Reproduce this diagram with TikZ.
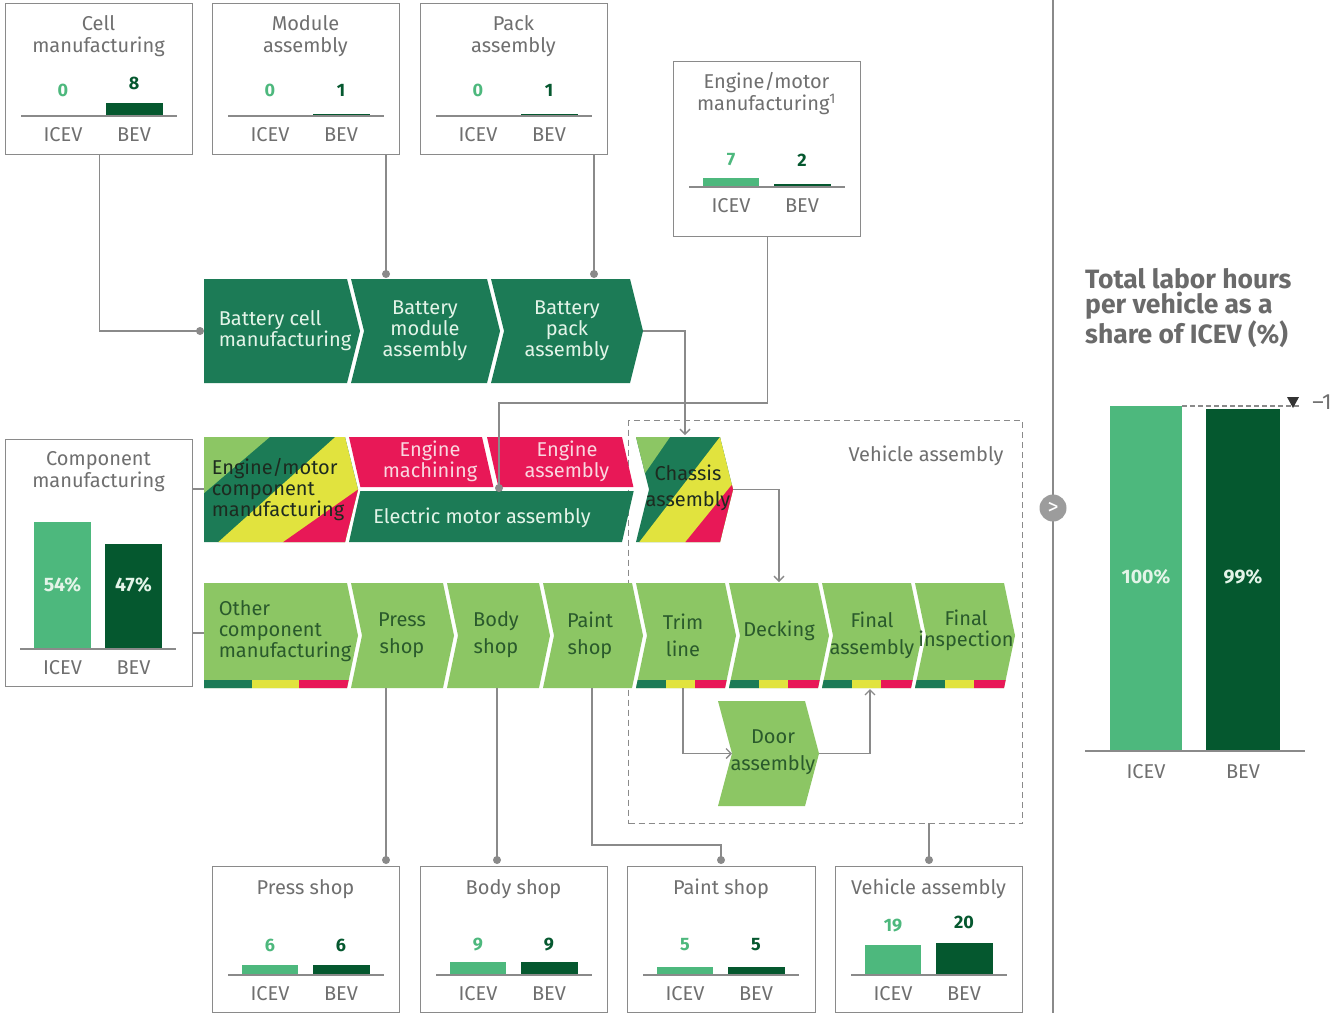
\documentclass[tikz,border=0pt]{standalone}
\usepackage{fontspec}
\setmainfont{Fira Sans}
\usetikzlibrary{arrows.meta}
\definecolor{bcgc}{HTML}{1C7B56}
\definecolor{bevc}{HTML}{05582F}
\definecolor{icevc}{HTML}{4DB87D}
\definecolor{lgc}{HTML}{8CC664}
\definecolor{yelc}{HTML}{E1E33E}
\definecolor{redc}{HTML}{E81857}
\definecolor{grayt}{HTML}{6F6F6F}
\definecolor{linec}{HTML}{8A8A8A}
\definecolor{btxt}{HTML}{E3F4E8}
\definecolor{ptxt}{HTML}{F9D7DF}
\definecolor{dtxt}{HTML}{2A5A2C}
\definecolor{ktxt}{HTML}{1D2B20}
\tikzset{
 boxst/.style={draw=linec, line width=1.3pt, fill=white, inner sep=0pt, anchor=north west},
 ttl/.style={text=grayt, font=\fontsize{20}{22}\selectfont, align=center, inner sep=0pt},
 lbl/.style={text=grayt, font=\fontsize{20}{22}\selectfont, inner sep=0pt},
 numi/.style={text=icevc, font=\bfseries\fontsize{18}{20}\selectfont, inner sep=0pt},
 numb/.style={text=bevc, font=\bfseries\fontsize{18}{20}\selectfont, inner sep=0pt},
 numw/.style={text=btxt, font=\bfseries\fontsize{19.5}{20}\selectfont, inner sep=0pt},
 conn/.style={draw=linec, line width=1.3pt},
 arr/.style={conn, -{Straight Barb[length=5pt,width=10pt]}},
 axisln/.style={draw=linec, line width=1.6pt},
 jdot/.style={circle, fill=linec, inner sep=0pt, minimum size=8pt},
 cht/.style={font=\fontsize{20}{21}\selectfont, align=center, inner sep=0pt},
}
\newcommand{\chevfill}[7]{\fill[#7] (#1,#3) -- (#2,#3) -- ({#2+#6},{(#3+#4)/2}) -- (#2,#4) -- (#1,#4) -- ({#1+#5},{(#3+#4)/2}) -- cycle;}
\newcommand{\chevclip}[6]{\clip (#1,#3) -- (#2,#3) -- ({#2+#6},{(#3+#4)/2}) -- (#2,#4) -- (#1,#4) -- ({#1+#5},{(#3+#4)/2}) -- cycle;}
\newcommand{\tristrip}[2]{%
 \fill[bcgc] ({#1-2},680) rectangle ({#1+(#2-#1)/3},692);
 \fill[yelc] ({#1+(#2-#1)/3},680) rectangle ({#1+2*(#2-#1)/3},692);
 \fill[redc] ({#1+2*(#2-#1)/3},680) rectangle ({#2+15},692);}
% #1 baseline left x, #2 baseline y, #3 icev h, #4 bev h, #5 icev num, #6 bev num, #7 icev num y, #8 bev num y, #9 prefix
\newcommand{\twobars}[9]{%
 \fill[icevc] ({#1+14},#2) rectangle ({#1+70},{#2-#3});
 \fill[bevc] ({#1+85},#2) rectangle ({#1+142},{#2-#4});
 \draw[axisln] (#1,#2) -- ({#1+156},#2);
 \node[numi] (#9-ni) at ({#1+42},#7) {#5};
 \node[numb] (#9-nb) at ({#1+113},#8) {#6};
 \node[lbl] (#9-li) at ({#1+42},{#2+19}) {ICEV};
 \node[lbl] (#9-lb) at ({#1+113},{#2+19}) {BEV};}
\begin{document}
\begin{tikzpicture}[x=1pt,y=-1pt]
\useasboundingbox[fill=white] (0,0) rectangle (1337,1013);

% dashed vehicle assembly frame (behind)
\node[draw=linec, line width=1.3pt, dash pattern=on 6pt off 4pt, inner sep=0pt, anchor=north west, minimum width=394pt, minimum height=403pt] (vabox) at (628,420) {};
\node[lbl] (valbl) at (926,456) {Vehicle assembly};

% ---------- top boxes ----------
\node[boxst, minimum width=187pt, minimum height=151pt] (cellbox) at (5,3) {};
\node[ttl] (cellt) at (98.5,36) {Cell\\manufacturing};
\twobars{21}{116}{0}{13}{0}{8}{90}{83}{cell}

\node[boxst, minimum width=187pt, minimum height=151pt] (modbox) at (212,3) {};
\node[ttl] (modt) at (305.5,36) {Module\\assembly};
\twobars{228}{116}{0}{2.5}{0}{1}{90}{90}{mod}

\node[boxst, minimum width=187pt, minimum height=151pt] (packbox) at (420,3) {};
\node[ttl] (packt) at (513.5,36) {Pack\\assembly};
\twobars{436}{116}{0}{2.5}{0}{1}{90}{90}{pack}

\node[boxst, minimum width=187pt, minimum height=175pt] (engbox) at (673,61) {};
\node[ttl] (engt) at (766.5,94) {Engine/motor\\manufacturing\textsuperscript{1}};
\twobars{689}{187}{9}{3}{7}{2}{160}{160}{eng}

% ---------- component box ----------
\node[boxst, minimum width=187pt, minimum height=247pt] (compbox) at (5,439) {};
\node[ttl] (compt) at (98.5,472) {Component\\manufacturing};
\fill[icevc] (34,522) rectangle (91,649);
\fill[bevc] (105,544) rectangle (162,649);
\draw[axisln] (20,649) -- (176,649);
\node[numw] (comp-ni) at (62.5,585) {54\%};
\node[numw] (comp-nb) at (133.5,585) {47\%};
\node[lbl] (comp-li) at (62.5,668) {ICEV};
\node[lbl] (comp-lb) at (133.5,668) {BEV};

% ---------- row 1: battery ----------
\chevfill{204}{347}{279}{383}{0}{13}{bcgc}
\chevfill{351}{487}{279}{383}{13}{13}{bcgc}
\chevfill{491}{630}{279}{383}{13}{13}{bcgc}
\node[cht, text=btxt, align=left] (bcell) at (285,331) {Battery cell\\manufacturing};
\node[cht, text=btxt] (bmod) at (425,331) {Battery\\module\\assembly};
\node[cht, text=btxt] (bpack) at (567,331) {Battery\\pack\\assembly};

% ---------- row 2 ----------
\begin{scope}
\chevclip{204}{345}{437}{542}{0}{13}
\fill[bcgc] (190,430) rectangle (400,550);
\fill[lgc] (190,430) -- (278,430) -- (196,500) -- (190,500) -- cycle;
\fill[yelc] (343,430) -- (215,545) -- (400,545) -- (400,430) -- cycle;
\fill[redc] (400,460) -- (279,545) -- (400,545) -- cycle;
\end{scope}
\fill[redc] (349,437) -- (482,437) -- (493.4,487) -- (360.4,487) -- cycle;
\fill[redc] (487,437) -- (622,437) -- (633.4,487) -- (498.4,487) -- cycle;
\fill[bcgc] (360.3,491) -- (633.7,491) -- (622,542) -- (349,542) -- cycle;
\begin{scope}
\chevclip{636}{720}{437}{542}{13}{13}
\fill[bcgc] (620,430) rectangle (760,550);
\fill[lgc] (620,437) -- (670,437) -- (630,495) -- (620,495) -- cycle;
\fill[yelc] (733,420) -- (637,545) -- (760,545) -- (760,420) -- cycle;
\fill[redc] (752,460) -- (683,545) -- (760,545) -- (760,460) -- cycle;
\end{scope}
\node[cht, text=ktxt, align=left] (emc) at (278,490) {Engine/motor\\component\\manufacturing};
\node[cht, text=ptxt] (engmach) at (430,461) {Engine\\machining};
\node[cht, text=ptxt] (engass) at (567,461) {Engine\\assembly};
\node[cht, text=btxt] (elec) at (482,518) {Electric motor assembly};
\node[cht, text=ktxt, font=\fontsize{20}{26}\selectfont] (chassis) at (688,488) {Chassis\\assembly};

% ---------- row 3 ----------
\chevfill{204}{347}{583}{688}{0}{11}{lgc}
\chevfill{351}{443}{583}{688}{11}{11}{lgc}
\chevfill{447}{539}{583}{688}{11}{11}{lgc}
\chevfill{543}{632}{583}{688}{11}{11}{lgc}
\chevfill{636}{725}{583}{688}{11}{11}{lgc}
\chevfill{729}{818}{583}{688}{11}{11}{lgc}
\chevfill{822}{911}{583}{688}{11}{11}{lgc}
\chevfill{915}{1004}{583}{688}{11}{11}{lgc}
\begin{scope}\chevclip{204}{347}{583}{688}{0}{11}\tristrip{204}{347}\end{scope}
\begin{scope}\chevclip{636}{725}{583}{688}{11}{11}\tristrip{636}{725}\end{scope}
\begin{scope}\chevclip{729}{818}{583}{688}{11}{11}\tristrip{729}{818}\end{scope}
\begin{scope}\chevclip{822}{911}{583}{688}{11}{11}\tristrip{822}{911}\end{scope}
\begin{scope}\chevclip{915}{1004}{583}{688}{11}{11}\tristrip{915}{1004}\end{scope}
\chevfill{718}{805}{701}{806}{14}{14}{lgc}
\node[cht, text=dtxt, align=left] (other) at (285,631) {Other\\component\\manufacturing};
\node[cht, text=dtxt, font=\fontsize{20}{27}\selectfont] (press) at (402,635) {Press\\shop};
\node[cht, text=dtxt, font=\fontsize{20}{27}\selectfont] (body) at (496,635) {Body\\shop};
\node[cht, text=dtxt, font=\fontsize{20}{27}\selectfont] (paint) at (590,635) {Paint\\shop};
\node[cht, text=dtxt, font=\fontsize{20}{27}\selectfont] (trim) at (683,635) {Trim\\line};
\node[cht, text=dtxt] (decking) at (779,631) {Decking};
\node[cht, text=dtxt, font=\fontsize{20}{27}\selectfont] (finass) at (872,635) {Final\\assembly};
\node[cht, text=dtxt] (finins) at (966,630) {Final\\inspection};
\node[cht, text=dtxt, font=\fontsize{20}{27}\selectfont] (door) at (773,752) {Door\\assembly};

% ---------- bottom boxes ----------
\node[boxst, minimum width=187pt, minimum height=146pt] (pressbox) at (212,866) {};
\node[ttl] (presst) at (305.5,889) {Press shop};
\twobars{228}{975}{10}{10}{6}{6}{945}{945}{pr}
\node[boxst, minimum width=187pt, minimum height=146pt] (bodybox) at (420,866) {};
\node[ttl] (bodyt) at (513.5,889) {Body shop};
\twobars{436}{975}{13}{13}{9}{9}{945}{945}{bo}
\node[boxst, minimum width=188pt, minimum height=146pt] (paintbox) at (627,866) {};
\node[ttl] (paintt) at (721,889) {Paint shop};
\twobars{643}{975}{8}{8}{5}{5}{945}{945}{pa}
\node[boxst, minimum width=187pt, minimum height=146pt] (vehbox) at (835,866) {};
\node[ttl] (veht) at (928.5,889) {Vehicle assembly};
\twobars{851}{975}{30}{32}{19}{20}{926}{922}{ve}

% ---------- connector coordinates ----------
\coordinate (cellin) at (200,331);
\coordinate (modin) at (386,274);
\coordinate (packin) at (594,274);
\coordinate (engturn) at (499,403);
\coordinate (engin) at (499,488);
\coordinate (packtip) at (643,331);
\coordinate (chastop) at (685,435);
\coordinate (chastip) at (733,489.5);
\coordinate (decktop) at (779,582);
\coordinate (trimbot) at (683,688);
\coordinate (doornotch) at (732,753.5);
\coordinate (doortip) at (819,753.5);
\coordinate (finbot) at (870,689);
\coordinate (pressout) at (386,688);
\coordinate (pressin) at (386,860);
\coordinate (bodyout) at (497,688);
\coordinate (bodyin) at (497,860);
\coordinate (paintout) at (592,688);
\coordinate (paintturn) at (592,845);
\coordinate (paintin) at (721,860);
\coordinate (vaout) at (929,823);
\coordinate (vain) at (929,860);
\coordinate (comp1) at (204,489);
\coordinate (comp2) at (204,633);

% ---------- connectors ----------
\draw[conn] (cellbox.south) |- (cellin);
\draw[conn] (modin |- modbox.south) -- (modin);
\draw[conn] (packin |- packbox.south) -- (packin);
\draw[conn] (engbox.south) |- (engturn) -- (engin);
\draw[arr] (packtip) -| (chastop);
\draw[arr] (chastip) -| (decktop);
\draw[arr] (trimbot) |- (doornotch);
\draw[arr] (doortip) -| (finbot);
\draw[conn] (pressout) -- (pressin);
\draw[conn] (bodyout) -- (bodyin);
\draw[conn] (paintout) -- (paintturn) -| (paintin);
\draw[conn] (vaout) -- (vain);
\draw[conn] (compbox.east |- comp1) -- (comp1);
\draw[conn] (compbox.east |- comp2) -- (comp2);
\node[jdot] (dcell) at (cellin) {};
\node[jdot] (dmod) at (modin) {};
\node[jdot] (dpack) at (packin) {};
\node[jdot] (deng) at (engin) {};
\node[jdot] (dpress) at (pressin) {};
\node[jdot] (dbody) at (bodyin) {};
\node[jdot] (dpaint) at (paintin) {};
\node[jdot] (dva) at (vain) {};

% ---------- right panel ----------
\coordinate (vtop) at (1053,0);
\coordinate (vbot) at (1053,1013);
\draw[conn] (vtop) -- (vbot);
\node[circle, fill=linec!85!white, text=white, inner sep=0pt, minimum size=27pt, font=\fontsize{22}{22}\selectfont] (nav) at (1053,508) {>};
\node[anchor=west, align=left, inner sep=0pt, text=grayt!95!black, font=\bfseries\fontsize{26.5}{25.5}\selectfont] (rtitle) at (1085,308) {Total labor hours\\per vehicle as a\\share of ICEV (\%)};
\fill[icevc] (1110,406) rectangle (1182,751);
\fill[bevc] (1206,409) rectangle (1280,751);
\draw[axisln] (1085,751) -- (1305,751);
\coordinate (dashA) at (1182,406);
\coordinate (dashB) at (1300,406);
\draw[draw=linec, line width=1.2pt, dash pattern=on 5pt off 3pt] (dashA) -- (dashB);
\fill[black!80] (1287,397) -- (1299,397) -- (1293,408) -- cycle;
\node[lbl, font=\fontsize{22}{22}\selectfont] (minus1) at (1322,402) {--1};
\node[numw] (r-ni) at (1146,577) {100\%};
\node[numw] (r-nb) at (1243,577) {99\%};
\node[lbl] (r-li) at (1146,772) {ICEV};
\node[lbl] (r-lb) at (1243,772) {BEV};
\end{tikzpicture}
\end{document}
